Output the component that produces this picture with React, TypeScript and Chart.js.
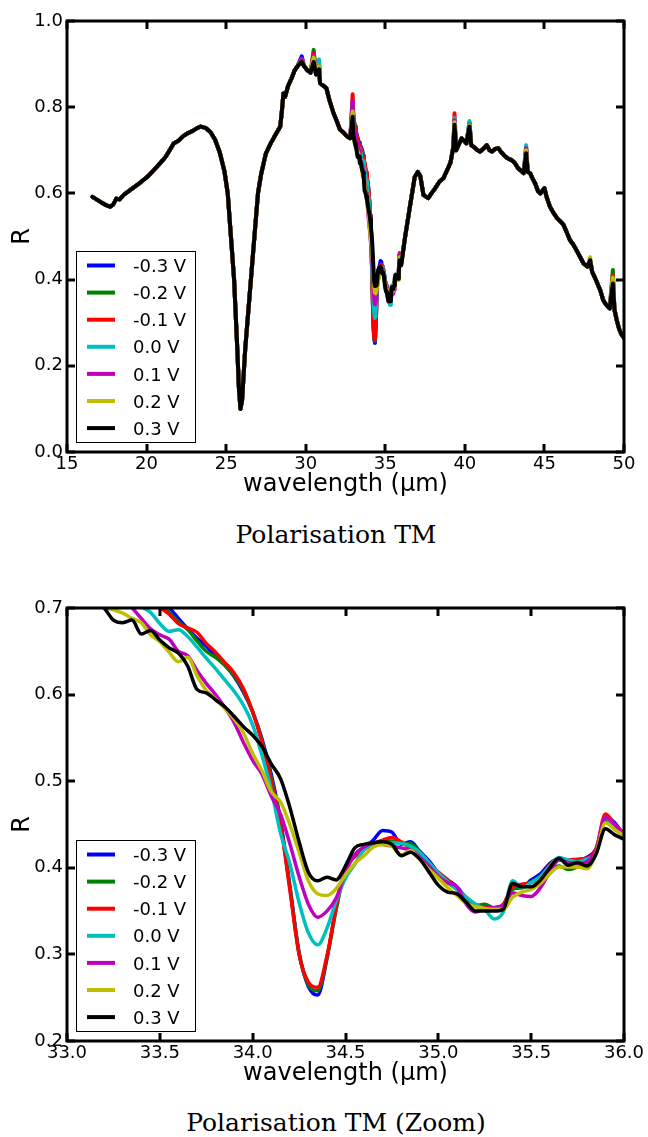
import React, { useEffect, useRef } from "react";
import { Chart, registerables } from "chart.js";

Chart.register(...registerables);

// ---------------- data ----------------
const seriesLabels = ["-0.3 V", "-0.2 V", "-0.1 V", "0.0 V", "0.1 V", "0.2 V", "0.3 V"];
const seriesColors = ["#0000ff", "#008000", "#ff0000", "#00bfbf", "#bf00bf", "#bfbf00", "#000000"];

const topXTicks = [15, 20, 25, 30, 35, 40, 45, 50];
const topYTicks = [0, 0.2, 0.4, 0.6, 0.8, 1.0];
const zoomXTicks = [33, 33.5, 34, 34.5, 35, 35.5, 36];
const zoomYTicks = [0.2, 0.3, 0.4, 0.5, 0.6, 0.7];

// zoom window wavelengths (µm)
const zoomLambda = [
  33.0, 33.05, 33.1, 33.15, 33.2, 33.25, 33.3, 33.35, 33.4, 33.45,
  33.5, 33.55, 33.6, 33.65, 33.7, 33.75, 33.8, 33.85, 33.9, 33.95,
  34.0, 34.05, 34.1, 34.15, 34.2, 34.25, 34.3, 34.35, 34.4, 34.45,
  34.5, 34.55, 34.6, 34.65, 34.7, 34.75, 34.8, 34.85, 34.9, 34.95,
  35.0, 35.05, 35.1, 35.15, 35.2, 35.25, 35.3, 35.35, 35.4, 35.45,
  35.5, 35.55, 35.6, 35.65, 35.7, 35.75, 35.8, 35.85, 35.9, 35.95,
  36.0,
];

const zoomM03 = [
  0.775, 0.765, 0.755, 0.745, 0.738, 0.730, 0.724, 0.718, 0.713, 0.709,
  0.705, 0.700, 0.688, 0.676, 0.665, 0.656, 0.644, 0.634, 0.621, 0.603,
  0.580, 0.549, 0.508, 0.455, 0.380, 0.302, 0.263, 0.253, 0.295, 0.355,
  0.402, 0.415, 0.422, 0.432, 0.443, 0.441, 0.427, 0.430, 0.419, 0.408,
  0.394, 0.386, 0.378, 0.365, 0.357, 0.354, 0.353, 0.357, 0.376, 0.377,
  0.386, 0.393, 0.405, 0.411, 0.409, 0.409, 0.412, 0.422, 0.458, 0.452,
  0.436,
];
const zoomM02 = [
  0.772, 0.762, 0.752, 0.742, 0.734, 0.726, 0.720, 0.714, 0.709, 0.705,
  0.701, 0.695, 0.684, 0.675, 0.662, 0.650, 0.643, 0.634, 0.622, 0.605,
  0.580, 0.547, 0.504, 0.452, 0.378, 0.301, 0.265, 0.258, 0.296, 0.352,
  0.398, 0.413, 0.421, 0.428, 0.430, 0.431, 0.428, 0.428, 0.418, 0.404,
  0.392, 0.383, 0.375, 0.363, 0.356, 0.358, 0.354, 0.355, 0.375, 0.378,
  0.384, 0.390, 0.398, 0.402, 0.398, 0.401, 0.404, 0.418, 0.455, 0.448,
  0.436,
];
const zoomM01 = [
  0.770, 0.760, 0.750, 0.740, 0.732, 0.724, 0.718, 0.712, 0.708, 0.704,
  0.700, 0.693, 0.682, 0.677, 0.672, 0.659, 0.649, 0.637, 0.625, 0.607,
  0.580, 0.545, 0.500, 0.450, 0.375, 0.300, 0.268, 0.262, 0.298, 0.355,
  0.400, 0.413, 0.421, 0.428, 0.432, 0.435, 0.430, 0.422, 0.414, 0.404,
  0.395, 0.386, 0.376, 0.366, 0.358, 0.354, 0.354, 0.358, 0.378, 0.381,
  0.383, 0.390, 0.403, 0.411, 0.409, 0.410, 0.411, 0.422, 0.462, 0.450,
  0.440,
];
const zoomP00 = [
  0.755, 0.745, 0.735, 0.725, 0.718, 0.712, 0.708, 0.704, 0.701, 0.695,
  0.682, 0.673, 0.675, 0.667, 0.655, 0.642, 0.630, 0.617, 0.604, 0.588,
  0.565, 0.530, 0.490, 0.440, 0.405, 0.360, 0.325, 0.311, 0.330, 0.362,
  0.388, 0.404, 0.421, 0.427, 0.428, 0.429, 0.428, 0.425, 0.418, 0.406,
  0.394, 0.384, 0.375, 0.366, 0.358, 0.352, 0.341, 0.349, 0.385, 0.377,
  0.383, 0.390, 0.402, 0.412, 0.409, 0.407, 0.410, 0.418, 0.458, 0.446,
  0.437,
];
const zoomP01 = [
  0.760, 0.750, 0.740, 0.730, 0.720, 0.714, 0.708, 0.700, 0.688, 0.676,
  0.669, 0.664, 0.650, 0.645, 0.628, 0.613, 0.600, 0.585, 0.568, 0.545,
  0.524, 0.508, 0.483, 0.462, 0.428, 0.390, 0.358, 0.343, 0.350, 0.365,
  0.395, 0.415, 0.424, 0.428, 0.427, 0.425, 0.423, 0.420, 0.412, 0.402,
  0.390, 0.383, 0.378, 0.358, 0.349, 0.353, 0.354, 0.357, 0.371, 0.368,
  0.367, 0.377, 0.395, 0.409, 0.406, 0.405, 0.407, 0.420, 0.458, 0.450,
  0.438,
];
const zoomP02 = [
  0.730, 0.722, 0.714, 0.707, 0.701, 0.698, 0.694, 0.688, 0.683, 0.669,
  0.661, 0.649, 0.638, 0.643, 0.622, 0.605, 0.595, 0.584, 0.572, 0.556,
  0.532, 0.512, 0.488, 0.476, 0.450, 0.418, 0.385, 0.370, 0.368, 0.376,
  0.392, 0.405, 0.414, 0.424, 0.427, 0.425, 0.415, 0.420, 0.410, 0.398,
  0.388, 0.377, 0.368, 0.359, 0.355, 0.353, 0.352, 0.352, 0.366, 0.372,
  0.375, 0.382, 0.393, 0.401, 0.401, 0.401, 0.399, 0.417, 0.452, 0.444,
  0.437,
];
const zoomP03 = [
  0.735, 0.725, 0.715, 0.708, 0.700, 0.686, 0.683, 0.686, 0.670, 0.674,
  0.663, 0.654, 0.648, 0.633, 0.606, 0.602, 0.594, 0.586, 0.575, 0.563,
  0.553, 0.540, 0.520, 0.503, 0.470, 0.430, 0.395, 0.385, 0.389, 0.386,
  0.402, 0.423, 0.427, 0.429, 0.430, 0.427, 0.414, 0.418, 0.410, 0.395,
  0.380, 0.372, 0.370, 0.360, 0.350, 0.350, 0.350, 0.352, 0.382, 0.378,
  0.378, 0.386, 0.400, 0.411, 0.403, 0.406, 0.402, 0.416, 0.445, 0.438,
  0.433,
];
const zoomSeries = [zoomM03, zoomM02, zoomM01, zoomP00, zoomP01, zoomP02, zoomP03];

// full spectrum outside the zoom window (0.3 V trace)
const topLambdaLow = [
  16.6, 16.9, 17.2, 17.5, 17.7, 17.9, 18.1, 18.3, 18.6, 18.9,
  19.2, 19.5, 19.8, 20.1, 20.4, 20.7, 20.9, 21.2, 21.5, 21.7,
  22.0, 22.3, 22.6, 22.9, 23.2, 23.4, 23.7, 24.0, 24.3, 24.6,
  24.9, 25.1, 25.3, 25.5, 25.7, 25.8, 25.9, 26.0, 26.2, 26.4,
  26.6, 26.8, 27.0, 27.2, 27.5, 27.8, 28.1, 28.4, 28.5, 28.6,
  28.7, 28.9, 29.1, 29.3, 29.5, 29.75, 29.9, 30.1, 30.3, 30.5,
  30.65, 30.84, 30.9, 31.1, 31.3, 31.5, 31.75, 31.95, 32.15, 32.4,
  32.6, 32.8, 32.95,
];
const topBlackLow = [
  0.592, 0.585, 0.578, 0.572, 0.569, 0.574, 0.588, 0.586, 0.598, 0.606,
  0.614, 0.622, 0.631, 0.640, 0.652, 0.664, 0.672, 0.685, 0.703, 0.716,
  0.722, 0.733, 0.740, 0.745, 0.752, 0.755, 0.752, 0.743, 0.725, 0.695,
  0.650, 0.600, 0.500, 0.400, 0.240, 0.150, 0.100, 0.120, 0.240, 0.330,
  0.420, 0.510, 0.600, 0.645, 0.693, 0.716, 0.736, 0.755, 0.790, 0.832,
  0.824, 0.850, 0.866, 0.885, 0.896, 0.905, 0.895, 0.886, 0.880, 0.905,
  0.876, 0.888, 0.856, 0.850, 0.844, 0.815, 0.786, 0.768, 0.748, 0.740,
  0.732, 0.728, 0.778,
];
const topLambdaHigh = [
  36.25, 36.55, 36.85, 37.05, 37.2, 37.4, 37.7, 37.9, 38.1, 38.4,
  38.65, 38.9, 39.1, 39.28, 39.35, 39.45, 39.6, 39.8, 40.1, 40.29,
  40.4, 40.55, 40.8, 40.96, 41.2, 41.38, 41.55, 41.7, 41.9, 42.1,
  42.3, 42.55, 42.75, 42.95, 43.15, 43.35, 43.55, 43.7, 43.85, 43.95,
  44.1, 44.25, 44.42, 44.6, 44.75, 45.0, 45.15, 45.35, 45.55, 45.8,
  46.0, 46.2, 46.4, 46.6, 46.8, 47.0, 47.25, 47.45, 47.7, 47.87,
  48.0, 48.25, 48.5, 48.7, 48.85, 49.1, 49.3, 49.4, 49.55, 49.7,
  49.85, 50.0,
];
const topBlackHigh = [
  0.500, 0.570, 0.638, 0.650, 0.640, 0.596, 0.589, 0.600, 0.610, 0.627,
  0.635, 0.655, 0.672, 0.708, 0.759, 0.700, 0.712, 0.728, 0.716, 0.755,
  0.712, 0.708, 0.700, 0.697, 0.705, 0.712, 0.700, 0.697, 0.703, 0.705,
  0.695, 0.685, 0.680, 0.677, 0.670, 0.658, 0.652, 0.647, 0.693, 0.650,
  0.647, 0.635, 0.623, 0.605, 0.600, 0.612, 0.590, 0.569, 0.556, 0.542,
  0.535, 0.527, 0.510, 0.492, 0.482, 0.469, 0.452, 0.438, 0.430, 0.445,
  0.418, 0.398, 0.376, 0.352, 0.343, 0.333, 0.391, 0.330, 0.305, 0.285,
  0.272, 0.265,
];
// narrow spikes where the other voltages rise above the 0.3 V trace: [wavelength, R]
const topSpikes = [
  [[29.75, 0.918], [30.5, 0.915], [30.84, 0.898], [32.95, 0.8], [39.35, 0.77], [40.29, 0.765], [43.85, 0.7], [47.87, 0.445], [49.3, 0.4]],
  [[29.75, 0.91], [30.5, 0.933], [30.84, 0.898], [32.95, 0.8], [39.35, 0.77], [40.29, 0.762], [43.85, 0.7], [47.87, 0.445], [49.3, 0.422]],
  [[29.75, 0.905], [30.5, 0.925], [30.84, 0.895], [32.95, 0.83], [39.35, 0.786], [40.29, 0.762], [43.85, 0.708], [47.87, 0.445], [49.3, 0.41]],
  [[29.75, 0.912], [30.5, 0.915], [30.84, 0.911], [32.95, 0.81], [39.35, 0.775], [40.29, 0.768], [43.85, 0.712], [47.87, 0.445], [49.3, 0.4]],
  [[29.75, 0.912], [30.5, 0.92], [30.84, 0.895], [32.95, 0.815], [39.35, 0.77], [40.29, 0.76], [43.85, 0.705], [47.87, 0.445], [49.3, 0.4]],
  [[29.75, 0.905], [30.5, 0.915], [30.84, 0.895], [32.95, 0.79], [39.35, 0.765], [40.29, 0.758], [43.85, 0.7], [47.87, 0.452], [49.3, 0.405]],
  [],
];

// ---------------- helpers ----------------
function topSeriesPoints(k: number) {
  const low = topBlackLow.slice();
  const high = topBlackHigh.slice();
  for (const [lam, r] of topSpikes[k]) {
    const i = topLambdaLow.indexOf(lam);
    if (i >= 0) low[i] = r;
    const j = topLambdaHigh.indexOf(lam);
    if (j >= 0) high[j] = r;
  }
  const xs = [...topLambdaLow, ...zoomLambda, ...topLambdaHigh];
  const ys = [...low, ...zoomSeries[k], ...high];
  return xs.map((x, i) => ({ x, y: ys[i] }));
}
function zoomSeriesPoints(k: number) {
  return zoomLambda.map((x, i) => ({ x, y: zoomSeries[k][i] }));
}

const FONT = "'DejaVu Sans'";

const framePlugin = {
  id: "mplFrame",
  afterDatasetsDraw(chart: any) {
    const { ctx, chartArea } = chart;
    const { left, right, top, bottom } = chartArea;
    const xs = chart.scales.x;
    const ys = chart.scales.y;
    ctx.save();
    ctx.strokeStyle = "#000";
    ctx.lineWidth = 3;
    ctx.lineCap = "butt";
    const tl = 8;
    ctx.beginPath();
    for (const t of xs.ticks) {
      const px = Math.round(xs.getPixelForValue(t.value));
      ctx.moveTo(px, bottom);
      ctx.lineTo(px, bottom - tl);
      ctx.moveTo(px, top);
      ctx.lineTo(px, top + tl);
    }
    for (const t of ys.ticks) {
      const py = Math.round(ys.getPixelForValue(t.value));
      ctx.moveTo(left, py);
      ctx.lineTo(left + tl, py);
      ctx.moveTo(right, py);
      ctx.lineTo(right - tl, py);
    }
    ctx.stroke();
    ctx.strokeRect(left, top, right - left, bottom - top);
    ctx.restore();
  },
};

const legendPlugin = {
  id: "mplLegend",
  afterDraw(chart: any) {
    const { ctx, chartArea } = chart;
    const bw = 119;
    const bh = 191;
    const bx = chartArea.left + 9;
    const by = chartArea.bottom - 10 - bh;
    ctx.save();
    ctx.fillStyle = "#fff";
    ctx.fillRect(bx, by, bw, bh);
    ctx.strokeStyle = "#000";
    ctx.lineWidth = 1;
    ctx.strokeRect(Math.round(bx) + 0.5, Math.round(by) + 0.5, bw, bh);
    ctx.font = `18px ${FONT}`;
    ctx.textBaseline = "alphabetic";
    ctx.textAlign = "left";
    chart.data.datasets.forEach((ds: any, k: number) => {
      const ly = by + 14.5 + k * 27.1;
      ctx.strokeStyle = ds.borderColor;
      ctx.lineWidth = 4;
      ctx.beginPath();
      ctx.moveTo(bx + 11, ly);
      ctx.lineTo(bx + 39, ly);
      ctx.stroke();
      ctx.fillStyle = "#000";
      ctx.fillText(ds.label, bx + 57, ly + 6.6);
    });
    ctx.restore();
  },
};

function makeConfig(opts: any) {
  const { datasets, xMin, xMax, yMin, yMax, xTicks, yTicks, xFmt, xHeight, titlePad } = opts;
  return {
    type: "line",
    data: { datasets },
    options: {
      responsive: false,
      animation: false,
      events: [],
      devicePixelRatio: 1,
      layout: { padding: { left: 0, right: 24, top: 21, bottom: 0 } },
      plugins: { legend: { display: false }, tooltip: { enabled: false } },
      scales: {
        x: {
          type: "linear",
          min: xMin,
          max: xMax,
          afterBuildTicks: (s: any) => {
            s.ticks = xTicks.map((v: number) => ({ value: v }));
          },
          afterFit: (s: any) => {
            s.height = xHeight;
          },
          grid: { display: false, drawTicks: false },
          border: { display: false },
          ticks: {
            autoSkip: false,
            maxRotation: 0,
            minRotation: 0,
            padding: 2,
            color: "#000",
            font: { family: FONT, size: 18, lineHeight: 1.2 },
            callback: (v: any) => xFmt(Number(v)),
          },
          title: {
            display: true,
            text: "wavelength (μm)",
            color: "#000",
            font: { family: FONT, size: 24, lineHeight: 1.2 },
            padding: { top: 0, bottom: titlePad },
          },
        },
        y: {
          type: "linear",
          min: yMin,
          max: yMax,
          afterBuildTicks: (s: any) => {
            s.ticks = yTicks.map((v: number) => ({ value: v }));
          },
          afterFit: (s: any) => {
            s.width = 67;
          },
          grid: { display: false, drawTicks: false },
          border: { display: false },
          ticks: {
            autoSkip: false,
            padding: 4,
            color: "#000",
            font: { family: FONT, size: 18, lineHeight: 1.2 },
            callback: (v: any) => Number(v).toFixed(1),
          },
          title: {
            display: true,
            text: "R",
            color: "#000",
            font: { family: FONT, size: 24, lineHeight: 1.2 },
            padding: { top: 8, bottom: 0 },
          },
        },
      },
    },
    plugins: [framePlugin, legendPlugin],
  };
}

export default function App() {
  const topRef = useRef<HTMLCanvasElement | null>(null);
  const zoomRef = useRef<HTMLCanvasElement | null>(null);

  useEffect(() => {
    const topDatasets = seriesLabels.map((label, k) => ({
      label,
      data: topSeriesPoints(k),
      borderColor: seriesColors[k],
      backgroundColor: seriesColors[k],
      borderWidth: 4,
      borderJoinStyle: "round",
      borderCapStyle: "round",
      pointRadius: 0,
      fill: false,
      tension: 0,
      order: 6 - k,
      clip: 0,
    }));
    const zoomDatasets = seriesLabels.map((label, k) => ({
      label,
      data: zoomSeriesPoints(k),
      borderColor: seriesColors[k],
      backgroundColor: seriesColors[k],
      borderWidth: 3.5,
      borderJoinStyle: "round",
      borderCapStyle: "round",
      pointRadius: 0,
      fill: false,
      cubicInterpolationMode: "monotone",
      order: 6 - k,
      clip: 0,
    }));
    const c1 = new Chart(
      topRef.current as HTMLCanvasElement,
      makeConfig({
        datasets: topDatasets,
        xMin: 15,
        xMax: 50,
        yMin: 0,
        yMax: 1,
        xTicks: topXTicks,
        yTicks: topYTicks,
        xFmt: (v: number) => String(Math.round(v)),
        xHeight: 58,
        titlePad: 11,
      }) as any
    );
    const c2 = new Chart(
      zoomRef.current as HTMLCanvasElement,
      makeConfig({
        datasets: zoomDatasets,
        xMin: 33,
        xMax: 36,
        yMin: 0.2,
        yMax: 0.7,
        xTicks: zoomXTicks,
        yTicks: zoomYTicks,
        xFmt: (v: number) => v.toFixed(1),
        xHeight: 56,
        titlePad: 9,
      }) as any
    );
    return () => {
      c1.destroy();
      c2.destroy();
    };
  }, []);

  const captionStyle: React.CSSProperties = {
    position: "absolute",
    left: 0,
    width: 672,
    textAlign: "center",
    fontFamily: "'DejaVu Serif', serif",
    fontSize: 25,
    lineHeight: "30px",
    color: "#000",
    whiteSpace: "nowrap",
  };

  return (
    <div style={{ position: "absolute", left: 0, top: 0, width: 648, height: 1137, background: "#fff", overflow: "hidden" }}>
      <canvas ref={topRef} width={648} height={510} style={{ position: "absolute", left: 0, top: 0 }} />
      <div style={{ ...captionStyle, top: 520 }}>Polarisation TM</div>
      <canvas ref={zoomRef} width={648} height={510} style={{ position: "absolute", left: 0, top: 587 }} />
      <div style={{ ...captionStyle, top: 1108 }}>Polarisation TM (Zoom)</div>
    </div>
  );
}
